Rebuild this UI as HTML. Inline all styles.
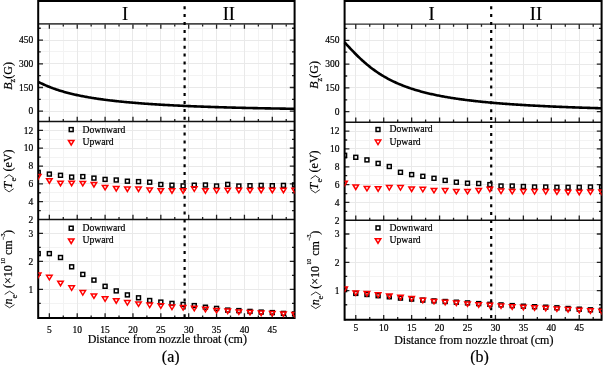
<!DOCTYPE html>
<html><head><meta charset="utf-8"><style>
html,body{margin:0;padding:0;background:#fff;}
body{width:603px;height:365px;overflow:hidden;}
svg{display:block;will-change:transform;}
text{font-family:'Liberation Serif', serif;fill:#000;stroke:#000;stroke-width:0.2px;}
.tk{font-size:9.5px;}
.lg{font-size:9.7px;}
.ti{font-size:12px;}
.lb{font-size:16px;}
.rm{font-size:18.5px;}
</style></head><body>
<svg width="603" height="365" viewBox="0 0 603 365">
<rect width="603" height="365" fill="#fff"/>
<path d="M63.5,23.9V318 M91.5,23.9V318 M119.5,23.9V318 M146.5,23.9V318 M174.5,23.9V318 M202.5,23.9V318 M230.5,23.9V318 M258.5,23.9V318 M286.5,23.9V318 M38.2,99.5H294.6 M38.2,75.5H294.6 M38.2,51.5H294.6 M38.2,28.5H294.6 M38.2,210.5H294.6 M38.2,192.5H294.6 M38.2,174.5H294.6 M38.2,157.5H294.6 M38.2,139.5H294.6 M38.2,303.5H294.6 M38.2,275.5H294.6 M38.2,247.5H294.6" stroke="#f3f3f3" stroke-width="1" fill="none"/>
<path d="M49.5,23.9V318 M77.5,23.9V318 M105.5,23.9V318 M132.5,23.9V318 M160.5,23.9V318 M188.5,23.9V318 M216.5,23.9V318 M244.5,23.9V318 M272.5,23.9V318 M38.2,111.5H294.6 M38.2,87.5H294.6 M38.2,63.5H294.6 M38.2,40.5H294.6 M38.2,201.5H294.6 M38.2,183.5H294.6 M38.2,166.5H294.6 M38.2,148.5H294.6 M38.2,130.5H294.6 M38.2,289.5H294.6 M38.2,261.5H294.6 M38.2,233.5H294.6" stroke="#e9e9e9" stroke-width="1" fill="none"/>
<path d="M49.35,23.9v4.8 M49.35,121.5v-4.8 M49.35,219.5v-4.8 M49.35,318v-4.8 M63.28,23.9v2.6 M63.28,121.5v-2.6 M63.28,219.5v-2.6 M63.28,318v-2.6 M77.22,23.9v4.8 M77.22,121.5v-4.8 M77.22,219.5v-4.8 M77.22,318v-4.8 M91.15,23.9v2.6 M91.15,121.5v-2.6 M91.15,219.5v-2.6 M91.15,318v-2.6 M105.09,23.9v4.8 M105.09,121.5v-4.8 M105.09,219.5v-4.8 M105.09,318v-4.8 M119.02,23.9v2.6 M119.02,121.5v-2.6 M119.02,219.5v-2.6 M119.02,318v-2.6 M132.96,23.9v4.8 M132.96,121.5v-4.8 M132.96,219.5v-4.8 M132.96,318v-4.8 M146.89,23.9v2.6 M146.89,121.5v-2.6 M146.89,219.5v-2.6 M146.89,318v-2.6 M160.83,23.9v4.8 M160.83,121.5v-4.8 M160.83,219.5v-4.8 M160.83,318v-4.8 M174.76,23.9v2.6 M174.76,121.5v-2.6 M174.76,219.5v-2.6 M174.76,318v-2.6 M188.7,23.9v4.8 M188.7,121.5v-4.8 M188.7,219.5v-4.8 M188.7,318v-4.8 M202.63,23.9v2.6 M202.63,121.5v-2.6 M202.63,219.5v-2.6 M202.63,318v-2.6 M216.57,23.9v4.8 M216.57,121.5v-4.8 M216.57,219.5v-4.8 M216.57,318v-4.8 M230.5,23.9v2.6 M230.5,121.5v-2.6 M230.5,219.5v-2.6 M230.5,318v-2.6 M244.43,23.9v4.8 M244.43,121.5v-4.8 M244.43,219.5v-4.8 M244.43,318v-4.8 M258.37,23.9v2.6 M258.37,121.5v-2.6 M258.37,219.5v-2.6 M258.37,318v-2.6 M272.3,23.9v4.8 M272.3,121.5v-4.8 M272.3,219.5v-4.8 M272.3,318v-4.8 M286.24,23.9v2.6 M286.24,121.5v-2.6 M286.24,219.5v-2.6 M286.24,318v-2.6 M38.2,111.2h4.8 M294.6,111.2h-4.8 M38.2,99.35h2.6 M294.6,99.35h-2.6 M38.2,87.5h4.8 M294.6,87.5h-4.8 M38.2,75.65h2.6 M294.6,75.65h-2.6 M38.2,63.8h4.8 M294.6,63.8h-4.8 M38.2,51.95h2.6 M294.6,51.95h-2.6 M38.2,40.1h4.8 M294.6,40.1h-4.8 M38.2,28.25h2.6 M294.6,28.25h-2.6 M38.2,210.59h2.6 M294.6,210.59h-2.6 M38.2,201.68h4.8 M294.6,201.68h-4.8 M38.2,192.77h2.6 M294.6,192.77h-2.6 M38.2,183.86h4.8 M294.6,183.86h-4.8 M38.2,174.95h2.6 M294.6,174.95h-2.6 M38.2,166.04h4.8 M294.6,166.04h-4.8 M38.2,157.13h2.6 M294.6,157.13h-2.6 M38.2,148.22h4.8 M294.6,148.22h-4.8 M38.2,139.31h2.6 M294.6,139.31h-2.6 M38.2,130.4h4.8 M294.6,130.4h-4.8 M38.2,303.4h2.6 M294.6,303.4h-2.6 M38.2,289.4h4.8 M294.6,289.4h-4.8 M38.2,275.4h2.6 M294.6,275.4h-2.6 M38.2,261.4h4.8 M294.6,261.4h-4.8 M38.2,247.4h2.6 M294.6,247.4h-2.6 M38.2,233.4h4.8 M294.6,233.4h-4.8" stroke="#222" stroke-width="1.3" fill="none"/>
<path d="M38.2,1H294.6" stroke="#000" stroke-width="2"/>
<path d="M38.2,23.9H294.6" stroke="#484848" stroke-width="1.8"/>
<path d="M38.2,121.5H294.6M38.2,219.5H294.6" stroke="#111" stroke-width="1.6"/>
<path d="M38.2,318H294.6" stroke="#000" stroke-width="2"/>
<path d="M38.2,0V319M294.6,0V319" stroke="#000" stroke-width="2"/>
<path d="M184.6,-1.7V318" stroke="#000" stroke-width="2.2" stroke-dasharray="3.0 4.9" fill="none"/>
<path d="M38.20,81.80 L39.20,82.31 L40.20,82.82 L41.20,83.31 L42.20,83.79 L43.20,84.25 L44.20,84.71 L45.20,85.15 L46.20,85.59 L47.20,86.01 L48.20,86.43 L49.20,86.83 L50.20,87.23 L51.20,87.61 L52.20,87.99 L53.20,88.35 L54.20,88.71 L55.20,89.06 L56.20,89.41 L57.20,89.74 L58.20,90.07 L59.20,90.39 L60.20,90.70 L61.20,91.01 L62.20,91.31 L63.20,91.60 L64.20,91.89 L65.20,92.17 L66.20,92.44 L67.20,92.71 L68.20,92.98 L69.20,93.23 L70.20,93.49 L71.20,93.73 L72.20,93.97 L73.20,94.21 L74.20,94.44 L75.20,94.67 L76.20,94.89 L77.20,95.11 L78.20,95.32 L79.20,95.53 L80.20,95.74 L81.20,95.94 L82.20,96.14 L83.20,96.33 L84.20,96.52 L85.20,96.71 L86.20,96.89 L87.20,97.07 L88.20,97.25 L89.20,97.42 L90.20,97.59 L91.20,97.76 L92.20,97.92 L93.20,98.08 L94.20,98.24 L95.20,98.40 L96.20,98.55 L97.20,98.70 L98.20,98.84 L99.20,98.99 L100.20,99.13 L101.20,99.27 L102.20,99.41 L103.20,99.54 L104.20,99.68 L105.20,99.81 L106.20,99.93 L107.20,100.06 L108.20,100.19 L109.20,100.31 L110.20,100.43 L111.20,100.55 L112.20,100.66 L113.20,100.78 L114.20,100.89 L115.20,101.00 L116.20,101.11 L117.20,101.22 L118.20,101.32 L119.20,101.43 L120.20,101.53 L121.20,101.63 L122.20,101.73 L123.20,101.83 L124.20,101.93 L125.20,102.02 L126.20,102.12 L127.20,102.21 L128.20,102.30 L129.20,102.39 L130.20,102.48 L131.20,102.57 L132.20,102.66 L133.20,102.74 L134.20,102.82 L135.20,102.91 L136.20,102.99 L137.20,103.07 L138.20,103.15 L139.20,103.23 L140.20,103.31 L141.20,103.38 L142.20,103.46 L143.20,103.53 L144.20,103.60 L145.20,103.68 L146.20,103.75 L147.20,103.82 L148.20,103.89 L149.20,103.96 L150.20,104.03 L151.20,104.09 L152.20,104.16 L153.20,104.22 L154.20,104.29 L155.20,104.35 L156.20,104.41 L157.20,104.48 L158.20,104.54 L159.20,104.60 L160.20,104.66 L161.20,104.72 L162.20,104.78 L163.20,104.83 L164.20,104.89 L165.20,104.95 L166.20,105.00 L167.20,105.06 L168.20,105.11 L169.20,105.17 L170.20,105.22 L171.20,105.27 L172.20,105.32 L173.20,105.37 L174.20,105.43 L175.20,105.48 L176.20,105.52 L177.20,105.57 L178.20,105.62 L179.20,105.67 L180.20,105.72 L181.20,105.76 L182.20,105.81 L183.20,105.86 L184.20,105.90 L185.20,105.95 L186.20,105.99 L187.20,106.03 L188.20,106.08 L189.20,106.12 L190.20,106.16 L191.20,106.20 L192.20,106.24 L193.20,106.28 L194.20,106.33 L195.20,106.36 L196.20,106.40 L197.20,106.44 L198.20,106.48 L199.20,106.52 L200.20,106.56 L201.20,106.60 L202.20,106.63 L203.20,106.67 L204.20,106.71 L205.20,106.74 L206.20,106.78 L207.20,106.81 L208.20,106.85 L209.20,106.88 L210.20,106.91 L211.20,106.95 L212.20,106.98 L213.20,107.01 L214.20,107.05 L215.20,107.08 L216.20,107.11 L217.20,107.14 L218.20,107.17 L219.20,107.20 L220.20,107.23 L221.20,107.26 L222.20,107.29 L223.20,107.32 L224.20,107.35 L225.20,107.38 L226.20,107.41 L227.20,107.44 L228.20,107.47 L229.20,107.49 L230.20,107.52 L231.20,107.55 L232.20,107.58 L233.20,107.60 L234.20,107.63 L235.20,107.66 L236.20,107.68 L237.20,107.71 L238.20,107.73 L239.20,107.76 L240.20,107.78 L241.20,107.81 L242.20,107.83 L243.20,107.85 L244.20,107.88 L245.20,107.90 L246.20,107.93 L247.20,107.95 L248.20,107.97 L249.20,107.99 L250.20,108.02 L251.20,108.04 L252.20,108.06 L253.20,108.08 L254.20,108.10 L255.20,108.12 L256.20,108.15 L257.20,108.17 L258.20,108.19 L259.20,108.21 L260.20,108.23 L261.20,108.25 L262.20,108.27 L263.20,108.29 L264.20,108.31 L265.20,108.33 L266.20,108.34 L267.20,108.36 L268.20,108.38 L269.20,108.40 L270.20,108.42 L271.20,108.44 L272.20,108.45 L273.20,108.47 L274.20,108.49 L275.20,108.51 L276.20,108.52 L277.20,108.54 L278.20,108.56 L279.20,108.57 L280.20,108.59 L281.20,108.61 L282.20,108.62 L283.20,108.64 L284.20,108.66 L285.20,108.67 L286.20,108.69 L287.20,108.70 L288.20,108.72 L289.20,108.73 L290.20,108.75 L291.20,108.76 L292.20,108.78 L293.20,108.79 L294.20,108.81 L294.60,108.81" stroke="#000" stroke-width="2.6" fill="none" stroke-linecap="butt" stroke-linejoin="round"/>
<clipPath id="ca"><rect x="38.2" y="121.5" width="256.4" height="196.5"/></clipPath>
<g clip-path="url(#ca)" fill="none" stroke="#000" stroke-width="1.5"><rect x="36.25" y="170.45" width="3.9" height="3.9"/><rect x="36.25" y="251.65" width="3.9" height="3.9"/><rect x="47.4" y="172.15" width="3.9" height="3.9"/><rect x="47.4" y="251.65" width="3.9" height="3.9"/><rect x="58.55" y="173.35" width="3.9" height="3.9"/><rect x="58.55" y="255.55" width="3.9" height="3.9"/><rect x="69.69" y="175.15" width="3.9" height="3.9"/><rect x="69.69" y="264.85" width="3.9" height="3.9"/><rect x="80.84" y="174.65" width="3.9" height="3.9"/><rect x="80.84" y="272.45" width="3.9" height="3.9"/><rect x="91.99" y="176.15" width="3.9" height="3.9"/><rect x="91.99" y="278.15" width="3.9" height="3.9"/><rect x="103.14" y="177.45" width="3.9" height="3.9"/><rect x="103.14" y="284.35" width="3.9" height="3.9"/><rect x="114.28" y="178.05" width="3.9" height="3.9"/><rect x="114.28" y="288.95" width="3.9" height="3.9"/><rect x="125.43" y="179.25" width="3.9" height="3.9"/><rect x="125.43" y="292.95" width="3.9" height="3.9"/><rect x="136.58" y="179.65" width="3.9" height="3.9"/><rect x="136.58" y="295.85" width="3.9" height="3.9"/><rect x="147.73" y="180.25" width="3.9" height="3.9"/><rect x="147.73" y="298.55" width="3.9" height="3.9"/><rect x="158.88" y="182.55" width="3.9" height="3.9"/><rect x="158.88" y="300.15" width="3.9" height="3.9"/><rect x="170.02" y="183.25" width="3.9" height="3.9"/><rect x="170.02" y="301.45" width="3.9" height="3.9"/><rect x="181.17" y="183.95" width="3.9" height="3.9"/><rect x="181.17" y="302.45" width="3.9" height="3.9"/><rect x="192.32" y="183.25" width="3.9" height="3.9"/><rect x="192.32" y="303.65" width="3.9" height="3.9"/><rect x="203.47" y="183.05" width="3.9" height="3.9"/><rect x="203.47" y="305.25" width="3.9" height="3.9"/><rect x="214.62" y="184.05" width="3.9" height="3.9"/><rect x="214.62" y="306.45" width="3.9" height="3.9"/><rect x="225.76" y="182.45" width="3.9" height="3.9"/><rect x="225.76" y="308.15" width="3.9" height="3.9"/><rect x="236.91" y="184.05" width="3.9" height="3.9"/><rect x="236.91" y="308.65" width="3.9" height="3.9"/><rect x="248.06" y="183.75" width="3.9" height="3.9"/><rect x="248.06" y="309.45" width="3.9" height="3.9"/><rect x="259.21" y="183.45" width="3.9" height="3.9"/><rect x="259.21" y="310.15" width="3.9" height="3.9"/><rect x="270.35" y="183.75" width="3.9" height="3.9"/><rect x="270.35" y="310.65" width="3.9" height="3.9"/><rect x="281.5" y="183.45" width="3.9" height="3.9"/><rect x="281.5" y="311.45" width="3.9" height="3.9"/><rect x="292.65" y="182.95" width="3.9" height="3.9"/><rect x="292.65" y="311.95" width="3.9" height="3.9"/></g>
<g clip-path="url(#ca)" fill="none" stroke="#f00" stroke-width="1.5" stroke-linejoin="miter"><path d="M35.45,174.6H40.95L38.2,179.1Z"/><path d="M35.45,273.1H40.95L38.2,277.6Z"/><path d="M46.6,178.7H52.1L49.35,183.2Z"/><path d="M46.6,275.3H52.1L49.35,279.8Z"/><path d="M57.75,181.2H63.25L60.5,185.7Z"/><path d="M57.75,281.2H63.25L60.5,285.7Z"/><path d="M68.89,181.2H74.39L71.64,185.7Z"/><path d="M68.89,285.8H74.39L71.64,290.3Z"/><path d="M80.04,181.4H85.54L82.79,185.9Z"/><path d="M80.04,290.6H85.54L82.79,295.1Z"/><path d="M91.19,182.5H96.69L93.94,187Z"/><path d="M91.19,293.9H96.69L93.94,298.4Z"/><path d="M102.34,185.4H107.84L105.09,189.9Z"/><path d="M102.34,296.8H107.84L105.09,301.3Z"/><path d="M113.48,186.5H118.98L116.23,191Z"/><path d="M113.48,298.7H118.98L116.23,303.2Z"/><path d="M124.63,187H130.13L127.38,191.5Z"/><path d="M124.63,300.6H130.13L127.38,305.1Z"/><path d="M135.78,187H141.28L138.53,191.5Z"/><path d="M135.78,301.9H141.28L138.53,306.4Z"/><path d="M146.93,187.9H152.43L149.68,192.4Z"/><path d="M146.93,303.1H152.43L149.68,307.6Z"/><path d="M158.08,188.7H163.58L160.83,193.2Z"/><path d="M158.08,303.8H163.58L160.83,308.3Z"/><path d="M169.22,188.7H174.72L171.97,193.2Z"/><path d="M169.22,305.1H174.72L171.97,309.6Z"/><path d="M180.37,188.7H185.87L183.12,193.2Z"/><path d="M180.37,305.6H185.87L183.12,310.1Z"/><path d="M191.52,186.8H197.02L194.27,191.3Z"/><path d="M191.52,306.3H197.02L194.27,310.8Z"/><path d="M202.67,188.7H208.17L205.42,193.2Z"/><path d="M202.67,307.3H208.17L205.42,311.8Z"/><path d="M213.82,188.6H219.32L216.57,193.1Z"/><path d="M213.82,308.4H219.32L216.57,312.9Z"/><path d="M224.96,188.2H230.46L227.71,192.7Z"/><path d="M224.96,309.1H230.46L227.71,313.6Z"/><path d="M236.11,188.2H241.61L238.86,192.7Z"/><path d="M236.11,309.9H241.61L238.86,314.4Z"/><path d="M247.26,188.4H252.76L250.01,192.9Z"/><path d="M247.26,310.4H252.76L250.01,314.9Z"/><path d="M258.41,188.2H263.91L261.16,192.7Z"/><path d="M258.41,311.1H263.91L261.16,315.6Z"/><path d="M269.55,188.2H275.05L272.3,192.7Z"/><path d="M269.55,311.4H275.05L272.3,315.9Z"/><path d="M280.7,188.2H286.2L283.45,192.7Z"/><path d="M280.7,311.9H286.2L283.45,316.4Z"/><path d="M291.85,188.2H297.35L294.6,192.7Z"/><path d="M291.85,312.4H297.35L294.6,316.9Z"/></g>
<g fill="none" stroke="#000" stroke-width="1.5"><rect x="69.25" y="127.65" width="3.9" height="3.9"/></g>
<g fill="none" stroke="#f00" stroke-width="1.5"><path d="M68.45,140.5H73.95L71.2,145Z"/></g>
<text x="82.4" y="132.8" class="lg">Downward</text>
<text x="82.4" y="145" class="lg">Upward</text>
<g fill="none" stroke="#000" stroke-width="1.5"><rect x="69.25" y="226.25" width="3.9" height="3.9"/></g>
<g fill="none" stroke="#f00" stroke-width="1.5"><path d="M68.45,239H73.95L71.2,243.5Z"/></g>
<text x="82.4" y="231.1" class="lg">Downward</text>
<text x="82.4" y="242.8" class="lg">Upward</text>
<text x="33.2" y="114.4" text-anchor="end" class="tk">0</text>
<text x="33.2" y="90.7" text-anchor="end" class="tk">150</text>
<text x="33.2" y="67" text-anchor="end" class="tk">300</text>
<text x="33.2" y="43.3" text-anchor="end" class="tk">450</text>
<text x="33.2" y="222.7" text-anchor="end" class="tk">2</text>
<text x="33.2" y="204.88" text-anchor="end" class="tk">4</text>
<text x="33.2" y="187.06" text-anchor="end" class="tk">6</text>
<text x="33.2" y="169.24" text-anchor="end" class="tk">8</text>
<text x="33.2" y="151.42" text-anchor="end" class="tk">10</text>
<text x="33.2" y="133.6" text-anchor="end" class="tk">12</text>
<text x="33.2" y="292.6" text-anchor="end" class="tk">1</text>
<text x="33.2" y="264.6" text-anchor="end" class="tk">2</text>
<text x="33.2" y="236.6" text-anchor="end" class="tk">3</text>
<text x="49.35" y="333" text-anchor="middle" class="tk">5</text>
<text x="77.22" y="333" text-anchor="middle" class="tk">10</text>
<text x="105.09" y="333" text-anchor="middle" class="tk">15</text>
<text x="132.96" y="333" text-anchor="middle" class="tk">20</text>
<text x="160.83" y="333" text-anchor="middle" class="tk">25</text>
<text x="188.7" y="333" text-anchor="middle" class="tk">30</text>
<text x="216.57" y="333" text-anchor="middle" class="tk">35</text>
<text x="244.43" y="333" text-anchor="middle" class="tk">40</text>
<text x="272.3" y="333" text-anchor="middle" class="tk">45</text>
<text x="87.7" y="342.9" class="ti">Distance from nozzle throat (cm)</text>
<text x="170.75" y="362" text-anchor="middle" class="lb">(a)</text>
<text x="125.1" y="19.6" text-anchor="middle" class="rm">I</text>
<text x="228.8" y="19.6" text-anchor="middle" class="rm">II</text>
<g transform="translate(11.9,89.6) rotate(-90)"><text x="-0.1" y="0" class="ti" font-style="italic">B</text><text x="7.0" y="3.3" style="font-size:8.4px">z</text><text x="10.9" y="0" class="ti">(G)</text></g>
<g transform="translate(11.7,192.1) rotate(-90)"><path d="M3.4,-7.2L0.2,-2.6L3.4,2" stroke="#000" stroke-width="0.8" fill="none"/><text x="3.6" y="0" class="ti" font-style="italic">T</text><text x="10.6" y="4.3" style="font-size:8.4px">e</text><path d="M14.2,-7.2L17.4,-2.6L14.2,2" stroke="#000" stroke-width="0.8" fill="none"/><text x="20.6" y="0" class="ti">(eV)</text></g>
<g transform="translate(12.3,308) rotate(-90)"><path d="M3.4,-7.6L0.2,-2.7L3.4,2.2" stroke="#000" stroke-width="0.8" fill="none"/><text x="3.6" y="0" class="ti" font-style="italic">n</text><text x="9.4" y="4.3" style="font-size:8.4px">e</text><path d="M13.6,-7.6L16.8,-2.7L13.6,2.2" stroke="#000" stroke-width="0.8" fill="none"/><text x="20.0" y="0" class="ti">(×10</text><text x="44.0" y="-7.5" style="font-size:6px">10</text><text x="53.0" y="0" class="ti">cm</text><text x="68.0" y="-7.5" style="font-size:6px">−3</text><text x="74.0" y="0" class="ti">)</text></g>
<path d="M369.5,24.1V319.7 M397.5,24.1V319.7 M425.5,24.1V319.7 M453.5,24.1V319.7 M481.5,24.1V319.7 M509.5,24.1V319.7 M537.5,24.1V319.7 M565.5,24.1V319.7 M593.5,24.1V319.7 M344.6,99.5H601.6 M344.6,75.5H601.6 M344.6,52.5H601.6 M344.6,28.5H601.6 M344.6,211.5H601.6 M344.6,193.5H601.6 M344.6,175.5H601.6 M344.6,157.5H601.6 M344.6,140.5H601.6 M344.6,304.5H601.6 M344.6,276.5H601.6 M344.6,248.5H601.6" stroke="#f3f3f3" stroke-width="1" fill="none"/>
<path d="M355.5,24.1V319.7 M383.5,24.1V319.7 M411.5,24.1V319.7 M439.5,24.1V319.7 M467.5,24.1V319.7 M495.5,24.1V319.7 M523.5,24.1V319.7 M551.5,24.1V319.7 M579.5,24.1V319.7 M344.6,111.5H601.6 M344.6,87.5H601.6 M344.6,64.5H601.6 M344.6,40.5H601.6 M344.6,202.5H601.6 M344.6,184.5H601.6 M344.6,166.5H601.6 M344.6,148.5H601.6 M344.6,131.5H601.6 M344.6,290.5H601.6 M344.6,262.5H601.6 M344.6,233.5H601.6" stroke="#e9e9e9" stroke-width="1" fill="none"/>
<path d="M355.77,24.1v4.8 M355.77,122.2v-4.8 M355.77,220.3v-4.8 M355.77,319.7v-4.8 M369.74,24.1v2.6 M369.74,122.2v-2.6 M369.74,220.3v-2.6 M369.74,319.7v-2.6 M383.71,24.1v4.8 M383.71,122.2v-4.8 M383.71,220.3v-4.8 M383.71,319.7v-4.8 M397.68,24.1v2.6 M397.68,122.2v-2.6 M397.68,220.3v-2.6 M397.68,319.7v-2.6 M411.64,24.1v4.8 M411.64,122.2v-4.8 M411.64,220.3v-4.8 M411.64,319.7v-4.8 M425.61,24.1v2.6 M425.61,122.2v-2.6 M425.61,220.3v-2.6 M425.61,319.7v-2.6 M439.58,24.1v4.8 M439.58,122.2v-4.8 M439.58,220.3v-4.8 M439.58,319.7v-4.8 M453.55,24.1v2.6 M453.55,122.2v-2.6 M453.55,220.3v-2.6 M453.55,319.7v-2.6 M467.51,24.1v4.8 M467.51,122.2v-4.8 M467.51,220.3v-4.8 M467.51,319.7v-4.8 M481.48,24.1v2.6 M481.48,122.2v-2.6 M481.48,220.3v-2.6 M481.48,319.7v-2.6 M495.45,24.1v4.8 M495.45,122.2v-4.8 M495.45,220.3v-4.8 M495.45,319.7v-4.8 M509.42,24.1v2.6 M509.42,122.2v-2.6 M509.42,220.3v-2.6 M509.42,319.7v-2.6 M523.38,24.1v4.8 M523.38,122.2v-4.8 M523.38,220.3v-4.8 M523.38,319.7v-4.8 M537.35,24.1v2.6 M537.35,122.2v-2.6 M537.35,220.3v-2.6 M537.35,319.7v-2.6 M551.32,24.1v4.8 M551.32,122.2v-4.8 M551.32,220.3v-4.8 M551.32,319.7v-4.8 M565.28,24.1v2.6 M565.28,122.2v-2.6 M565.28,220.3v-2.6 M565.28,319.7v-2.6 M579.25,24.1v4.8 M579.25,122.2v-4.8 M579.25,220.3v-4.8 M579.25,319.7v-4.8 M593.22,24.1v2.6 M593.22,122.2v-2.6 M593.22,220.3v-2.6 M593.22,319.7v-2.6 M344.6,111.7h4.8 M601.6,111.7h-4.8 M344.6,99.8h2.6 M601.6,99.8h-2.6 M344.6,87.9h4.8 M601.6,87.9h-4.8 M344.6,75.99h2.6 M601.6,75.99h-2.6 M344.6,64.09h4.8 M601.6,64.09h-4.8 M344.6,52.19h2.6 M601.6,52.19h-2.6 M344.6,40.28h4.8 M601.6,40.28h-4.8 M344.6,28.38h2.6 M601.6,28.38h-2.6 M344.6,211.38h2.6 M601.6,211.38h-2.6 M344.6,202.46h4.8 M601.6,202.46h-4.8 M344.6,193.54h2.6 M601.6,193.54h-2.6 M344.6,184.62h4.8 M601.6,184.62h-4.8 M344.6,175.7h2.6 M601.6,175.7h-2.6 M344.6,166.78h4.8 M601.6,166.78h-4.8 M344.6,157.86h2.6 M601.6,157.86h-2.6 M344.6,148.94h4.8 M601.6,148.94h-4.8 M344.6,140.02h2.6 M601.6,140.02h-2.6 M344.6,131.1h4.8 M601.6,131.1h-4.8 M344.6,304.75h2.6 M601.6,304.75h-2.6 M344.6,290.6h4.8 M601.6,290.6h-4.8 M344.6,276.45h2.6 M601.6,276.45h-2.6 M344.6,262.3h4.8 M601.6,262.3h-4.8 M344.6,248.15h2.6 M601.6,248.15h-2.6 M344.6,234h4.8 M601.6,234h-4.8" stroke="#222" stroke-width="1.3" fill="none"/>
<path d="M344.6,1H601.6" stroke="#000" stroke-width="2"/>
<path d="M344.6,24.1H601.6" stroke="#2a2a2a" stroke-width="1.4"/>
<path d="M344.6,122.2H601.6M344.6,220.3H601.6" stroke="#111" stroke-width="1.6"/>
<path d="M344.6,319.7H601.6" stroke="#000" stroke-width="2"/>
<path d="M344.6,0V320.7M601.6,0V320.7" stroke="#000" stroke-width="2"/>
<path d="M491.2,-1.72V319.7" stroke="#000" stroke-width="2.2" stroke-dasharray="3.0 4.92" fill="none"/>
<path d="M344.60,42.39 L345.60,43.47 L346.60,44.54 L347.60,45.62 L348.60,46.69 L349.60,47.76 L350.60,48.82 L351.60,49.88 L352.60,50.92 L353.60,51.96 L354.60,52.98 L355.60,53.99 L356.60,54.99 L357.60,55.98 L358.60,56.95 L359.60,57.91 L360.60,58.85 L361.60,59.78 L362.60,60.69 L363.60,61.59 L364.60,62.47 L365.60,63.33 L366.60,64.18 L367.60,65.01 L368.60,65.83 L369.60,66.63 L370.60,67.41 L371.60,68.18 L372.60,68.94 L373.60,69.67 L374.60,70.40 L375.60,71.10 L376.60,71.80 L377.60,72.48 L378.60,73.14 L379.60,73.79 L380.60,74.43 L381.60,75.05 L382.60,75.66 L383.60,76.26 L384.60,76.84 L385.60,77.41 L386.60,77.97 L387.60,78.52 L388.60,79.05 L389.60,79.58 L390.60,80.09 L391.60,80.59 L392.60,81.08 L393.60,81.56 L394.60,82.03 L395.60,82.50 L396.60,82.95 L397.60,83.39 L398.60,83.82 L399.60,84.24 L400.60,84.66 L401.60,85.06 L402.60,85.46 L403.60,85.85 L404.60,86.23 L405.60,86.61 L406.60,86.97 L407.60,87.33 L408.60,87.68 L409.60,88.03 L410.60,88.36 L411.60,88.70 L412.60,89.02 L413.60,89.34 L414.60,89.65 L415.60,89.95 L416.60,90.25 L417.60,90.55 L418.60,90.84 L419.60,91.12 L420.60,91.40 L421.60,91.67 L422.60,91.94 L423.60,92.20 L424.60,92.46 L425.60,92.71 L426.60,92.96 L427.60,93.20 L428.60,93.44 L429.60,93.67 L430.60,93.90 L431.60,94.13 L432.60,94.35 L433.60,94.57 L434.60,94.78 L435.60,94.99 L436.60,95.20 L437.60,95.40 L438.60,95.60 L439.60,95.80 L440.60,95.99 L441.60,96.18 L442.60,96.37 L443.60,96.55 L444.60,96.73 L445.60,96.91 L446.60,97.08 L447.60,97.26 L448.60,97.42 L449.60,97.59 L450.60,97.75 L451.60,97.91 L452.60,98.07 L453.60,98.23 L454.60,98.38 L455.60,98.53 L456.60,98.68 L457.60,98.83 L458.60,98.97 L459.60,99.11 L460.60,99.25 L461.60,99.39 L462.60,99.52 L463.60,99.66 L464.60,99.79 L465.60,99.92 L466.60,100.04 L467.60,100.17 L468.60,100.29 L469.60,100.41 L470.60,100.53 L471.60,100.65 L472.60,100.77 L473.60,100.88 L474.60,101.00 L475.60,101.11 L476.60,101.22 L477.60,101.33 L478.60,101.43 L479.60,101.54 L480.60,101.64 L481.60,101.75 L482.60,101.85 L483.60,101.95 L484.60,102.05 L485.60,102.14 L486.60,102.24 L487.60,102.33 L488.60,102.43 L489.60,102.52 L490.60,102.61 L491.60,102.70 L492.60,102.79 L493.60,102.87 L494.60,102.96 L495.60,103.04 L496.60,103.13 L497.60,103.21 L498.60,103.29 L499.60,103.37 L500.60,103.45 L501.60,103.53 L502.60,103.61 L503.60,103.69 L504.60,103.76 L505.60,103.84 L506.60,103.91 L507.60,103.98 L508.60,104.06 L509.60,104.13 L510.60,104.20 L511.60,104.27 L512.60,104.34 L513.60,104.41 L514.60,104.47 L515.60,104.54 L516.60,104.60 L517.60,104.67 L518.60,104.73 L519.60,104.80 L520.60,104.86 L521.60,104.92 L522.60,104.98 L523.60,105.04 L524.60,105.10 L525.60,105.16 L526.60,105.22 L527.60,105.28 L528.60,105.34 L529.60,105.39 L530.60,105.45 L531.60,105.50 L532.60,105.56 L533.60,105.61 L534.60,105.67 L535.60,105.72 L536.60,105.77 L537.60,105.82 L538.60,105.87 L539.60,105.92 L540.60,105.97 L541.60,106.02 L542.60,106.07 L543.60,106.12 L544.60,106.17 L545.60,106.22 L546.60,106.26 L547.60,106.31 L548.60,106.36 L549.60,106.40 L550.60,106.45 L551.60,106.49 L552.60,106.54 L553.60,106.58 L554.60,106.62 L555.60,106.67 L556.60,106.71 L557.60,106.75 L558.60,106.79 L559.60,106.83 L560.60,106.88 L561.60,106.92 L562.60,106.96 L563.60,107.00 L564.60,107.04 L565.60,107.07 L566.60,107.11 L567.60,107.15 L568.60,107.19 L569.60,107.23 L570.60,107.26 L571.60,107.30 L572.60,107.34 L573.60,107.37 L574.60,107.41 L575.60,107.44 L576.60,107.48 L577.60,107.51 L578.60,107.55 L579.60,107.58 L580.60,107.62 L581.60,107.65 L582.60,107.68 L583.60,107.72 L584.60,107.75 L585.60,107.78 L586.60,107.81 L587.60,107.84 L588.60,107.88 L589.60,107.91 L590.60,107.94 L591.60,107.97 L592.60,108.00 L593.60,108.03 L594.60,108.06 L595.60,108.09 L596.60,108.12 L597.60,108.15 L598.60,108.18 L599.60,108.20 L600.60,108.23 L601.60,108.26" stroke="#000" stroke-width="2.6" fill="none" stroke-linecap="butt" stroke-linejoin="round"/>
<clipPath id="cb"><rect x="344.6" y="122.2" width="257" height="197.5"/></clipPath>
<g clip-path="url(#cb)" fill="none" stroke="#000" stroke-width="1.5"><rect x="342.65" y="153.35" width="3.9" height="3.9"/><rect x="342.65" y="287.65" width="3.9" height="3.9"/><rect x="353.82" y="155.35" width="3.9" height="3.9"/><rect x="353.82" y="291.45" width="3.9" height="3.9"/><rect x="365" y="157.95" width="3.9" height="3.9"/><rect x="365" y="292.55" width="3.9" height="3.9"/><rect x="376.17" y="161.45" width="3.9" height="3.9"/><rect x="376.17" y="293.75" width="3.9" height="3.9"/><rect x="387.35" y="164.55" width="3.9" height="3.9"/><rect x="387.35" y="294.85" width="3.9" height="3.9"/><rect x="398.52" y="170.35" width="3.9" height="3.9"/><rect x="398.52" y="296.15" width="3.9" height="3.9"/><rect x="409.69" y="172.65" width="3.9" height="3.9"/><rect x="409.69" y="297.15" width="3.9" height="3.9"/><rect x="420.87" y="174.35" width="3.9" height="3.9"/><rect x="420.87" y="298.15" width="3.9" height="3.9"/><rect x="432.04" y="176.35" width="3.9" height="3.9"/><rect x="432.04" y="298.95" width="3.9" height="3.9"/><rect x="443.22" y="178.45" width="3.9" height="3.9"/><rect x="443.22" y="299.55" width="3.9" height="3.9"/><rect x="454.39" y="180.25" width="3.9" height="3.9"/><rect x="454.39" y="300.25" width="3.9" height="3.9"/><rect x="465.56" y="181.25" width="3.9" height="3.9"/><rect x="465.56" y="300.95" width="3.9" height="3.9"/><rect x="476.74" y="181.55" width="3.9" height="3.9"/><rect x="476.74" y="301.65" width="3.9" height="3.9"/><rect x="487.91" y="182.65" width="3.9" height="3.9"/><rect x="487.91" y="302.35" width="3.9" height="3.9"/><rect x="499.08" y="184.05" width="3.9" height="3.9"/><rect x="499.08" y="302.95" width="3.9" height="3.9"/><rect x="510.26" y="184.05" width="3.9" height="3.9"/><rect x="510.26" y="303.65" width="3.9" height="3.9"/><rect x="521.43" y="184.55" width="3.9" height="3.9"/><rect x="521.43" y="304.25" width="3.9" height="3.9"/><rect x="532.61" y="185.05" width="3.9" height="3.9"/><rect x="532.61" y="304.75" width="3.9" height="3.9"/><rect x="543.78" y="185.05" width="3.9" height="3.9"/><rect x="543.78" y="305.25" width="3.9" height="3.9"/><rect x="554.95" y="185.35" width="3.9" height="3.9"/><rect x="554.95" y="305.85" width="3.9" height="3.9"/><rect x="566.13" y="185.35" width="3.9" height="3.9"/><rect x="566.13" y="306.55" width="3.9" height="3.9"/><rect x="577.3" y="185.35" width="3.9" height="3.9"/><rect x="577.3" y="307.25" width="3.9" height="3.9"/><rect x="588.48" y="185.05" width="3.9" height="3.9"/><rect x="588.48" y="307.85" width="3.9" height="3.9"/><rect x="599.65" y="185.05" width="3.9" height="3.9"/><rect x="599.65" y="308.25" width="3.9" height="3.9"/></g>
<g clip-path="url(#cb)" fill="none" stroke="#f00" stroke-width="1.5" stroke-linejoin="miter"><path d="M341.85,181.2H347.35L344.6,185.7Z"/><path d="M341.85,287.1H347.35L344.6,291.6Z"/><path d="M353.02,185H358.52L355.77,189.5Z"/><path d="M353.02,290.9H358.52L355.77,295.4Z"/><path d="M364.2,186.4H369.7L366.95,190.9Z"/><path d="M364.2,291.5H369.7L366.95,296Z"/><path d="M375.37,186.7H380.87L378.12,191.2Z"/><path d="M375.37,292.8H380.87L378.12,297.3Z"/><path d="M386.55,185.6H392.05L389.3,190.1Z"/><path d="M386.55,293.9H392.05L389.3,298.4Z"/><path d="M397.72,185.6H403.22L400.47,190.1Z"/><path d="M397.72,295.2H403.22L400.47,299.7Z"/><path d="M408.89,187H414.39L411.64,191.5Z"/><path d="M408.89,296.6H414.39L411.64,301.1Z"/><path d="M420.07,187.3H425.57L422.82,191.8Z"/><path d="M420.07,298.3H425.57L422.82,302.8Z"/><path d="M431.24,188.4H436.74L433.99,192.9Z"/><path d="M431.24,299.4H436.74L433.99,303.9Z"/><path d="M442.42,188.6H447.92L445.17,193.1Z"/><path d="M442.42,300.3H447.92L445.17,304.8Z"/><path d="M453.59,189.4H459.09L456.34,193.9Z"/><path d="M453.59,301.1H459.09L456.34,305.6Z"/><path d="M464.76,189.4H470.26L467.51,193.9Z"/><path d="M464.76,301.9H470.26L467.51,306.4Z"/><path d="M475.94,188.5H481.44L478.69,193Z"/><path d="M475.94,302.7H481.44L478.69,307.2Z"/><path d="M487.11,187.2H492.61L489.86,191.7Z"/><path d="M487.11,303.3H492.61L489.86,307.8Z"/><path d="M498.28,189.1H503.78L501.03,193.6Z"/><path d="M498.28,303.9H503.78L501.03,308.4Z"/><path d="M509.46,189.4H514.96L512.21,193.9Z"/><path d="M509.46,304.7H514.96L512.21,309.2Z"/><path d="M520.63,189.6H526.13L523.38,194.1Z"/><path d="M520.63,305.3H526.13L523.38,309.8Z"/><path d="M531.81,189.6H537.31L534.56,194.1Z"/><path d="M531.81,305.8H537.31L534.56,310.3Z"/><path d="M542.98,189.6H548.48L545.73,194.1Z"/><path d="M542.98,306.3H548.48L545.73,310.8Z"/><path d="M554.15,189.9H559.65L556.9,194.4Z"/><path d="M554.15,306.9H559.65L556.9,311.4Z"/><path d="M565.33,190.2H570.83L568.08,194.7Z"/><path d="M565.33,307.6H570.83L568.08,312.1Z"/><path d="M576.5,190.2H582L579.25,194.7Z"/><path d="M576.5,308.3H582L579.25,312.8Z"/><path d="M587.68,189.9H593.18L590.43,194.4Z"/><path d="M587.68,308.8H593.18L590.43,313.3Z"/><path d="M598.85,190H604.35L601.6,194.5Z"/><path d="M598.85,309.2H604.35L601.6,313.7Z"/></g>
<g fill="none" stroke="#000" stroke-width="1.5"><rect x="376.05" y="127.55" width="3.9" height="3.9"/></g>
<g fill="none" stroke="#f00" stroke-width="1.5"><path d="M375.25,140.1H380.75L378,144.6Z"/></g>
<text x="389.5" y="132.4" class="lg">Downward</text>
<text x="389.5" y="144.7" class="lg">Upward</text>
<g fill="none" stroke="#000" stroke-width="1.5"><rect x="376.05" y="225.95" width="3.9" height="3.9"/></g>
<g fill="none" stroke="#f00" stroke-width="1.5"><path d="M375.25,238.7H380.75L378,243.2Z"/></g>
<text x="389.5" y="230.7" class="lg">Downward</text>
<text x="389.5" y="242.5" class="lg">Upward</text>
<text x="339.6" y="114.9" text-anchor="end" class="tk">0</text>
<text x="339.6" y="91.1" text-anchor="end" class="tk">150</text>
<text x="339.6" y="67.29" text-anchor="end" class="tk">300</text>
<text x="339.6" y="43.48" text-anchor="end" class="tk">450</text>
<text x="339.6" y="223.5" text-anchor="end" class="tk">2</text>
<text x="339.6" y="205.66" text-anchor="end" class="tk">4</text>
<text x="339.6" y="187.82" text-anchor="end" class="tk">6</text>
<text x="339.6" y="169.98" text-anchor="end" class="tk">8</text>
<text x="339.6" y="152.14" text-anchor="end" class="tk">10</text>
<text x="339.6" y="134.3" text-anchor="end" class="tk">12</text>
<text x="339.6" y="293.8" text-anchor="end" class="tk">1</text>
<text x="339.6" y="265.5" text-anchor="end" class="tk">2</text>
<text x="339.6" y="237.2" text-anchor="end" class="tk">3</text>
<text x="355.77" y="331.4" text-anchor="middle" class="tk">5</text>
<text x="383.71" y="331.4" text-anchor="middle" class="tk">10</text>
<text x="411.64" y="331.4" text-anchor="middle" class="tk">15</text>
<text x="439.58" y="331.4" text-anchor="middle" class="tk">20</text>
<text x="467.51" y="331.4" text-anchor="middle" class="tk">25</text>
<text x="495.45" y="331.4" text-anchor="middle" class="tk">30</text>
<text x="523.38" y="331.4" text-anchor="middle" class="tk">35</text>
<text x="551.32" y="331.4" text-anchor="middle" class="tk">40</text>
<text x="579.25" y="331.4" text-anchor="middle" class="tk">45</text>
<text x="394.2" y="344.3" class="ti">Distance from nozzle throat (cm)</text>
<text x="479.5" y="362" text-anchor="middle" class="lb">(b)</text>
<text x="431.7" y="19.8" text-anchor="middle" class="rm">I</text>
<text x="536" y="19.8" text-anchor="middle" class="rm">II</text>
<g transform="translate(318.4,88.6) rotate(-90)"><text x="-0.1" y="0" class="ti" font-style="italic">B</text><text x="7.0" y="3.3" style="font-size:8.4px">z</text><text x="10.9" y="0" class="ti">(G)</text></g>
<g transform="translate(317.9,193) rotate(-90)"><path d="M3.4,-7.2L0.2,-2.6L3.4,2" stroke="#000" stroke-width="0.8" fill="none"/><text x="3.6" y="0" class="ti" font-style="italic">T</text><text x="10.6" y="4.3" style="font-size:8.4px">e</text><path d="M14.2,-7.2L17.4,-2.6L14.2,2" stroke="#000" stroke-width="0.8" fill="none"/><text x="20.6" y="0" class="ti">(eV)</text></g>
<g transform="translate(318.5,308.8) rotate(-90)"><path d="M3.4,-7.6L0.2,-2.7L3.4,2.2" stroke="#000" stroke-width="0.8" fill="none"/><text x="3.6" y="0" class="ti" font-style="italic">n</text><text x="9.4" y="4.3" style="font-size:8.4px">e</text><path d="M13.6,-7.6L16.8,-2.7L13.6,2.2" stroke="#000" stroke-width="0.8" fill="none"/><text x="20.0" y="0" class="ti">(×10</text><text x="44.0" y="-7.5" style="font-size:6px">10</text><text x="53.0" y="0" class="ti">cm</text><text x="68.0" y="-7.5" style="font-size:6px">−3</text><text x="74.0" y="0" class="ti">)</text></g>
</svg>
</body></html>
